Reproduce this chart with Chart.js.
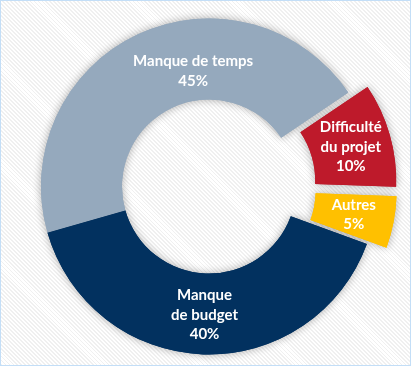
<!DOCTYPE html>
<html>
<head>
<meta charset="utf-8">
<script src="https://cdn.jsdelivr.net/npm/chart.js@4/dist/chart.umd.min.js"></script>
<style>
  html, body { margin: 0; padding: 0; background: #fff; overflow: hidden; }
  #wrap {
    position: relative; width: 411px; height: 366px; overflow: hidden;
    background: repeating-linear-gradient(45deg, #ffffff 0px, #ffffff 1.5px, #f0f0f0 1.5px, #f0f0f0 2.8px);
  }
  #wrap canvas { position: absolute; left: 0; top: 0; }
  #frame {
    position: absolute; left: 0; top: 0; width: 411px; height: 366px;
    box-sizing: border-box; border: 1px solid #c3def7; pointer-events: none;
  }
</style>
</head>
<body>
<div id="wrap">
  <canvas id="c" width="411" height="366"></canvas>
  <div id="frame"></div>
</div>
<script>
// ---- data ----
const categories = ['Manque de temps', 'Difficulté du projet', 'Autres', 'Manque de budget'];
const values = [45, 10, 5, 40];
const labelLines = [
  ['Manque de temps', '45%'],
  ['Difficulté', 'du projet', '10%'],
  ['Autres', '5%'],
  ['Manque', 'de budget', '40%']
];
const colors = ['#95a9bd', '#be1a2b', '#ffc000', '#02315f'];
const explode = [0, 20, 20, 0];
const labelShiftX = [38, 0, 0, 0];
const labelShiftY = [0, 1, 0, 1];

// translate exploded slices along their mid angle (pure shift, no radius growth)
const explodePlugin = {
  id: 'explodeSlices',
  afterUpdate(chart) {
    chart.getDatasetMeta(0).data.forEach((arc, i) => {
      if (!arc._origDraw) arc._origDraw = arc.draw;
      const d = explode[i];
      arc.draw = function (ctx, area) {
        const mid = (this.startAngle + this.endAngle) / 2;
        ctx.save();
        ctx.translate(Math.cos(mid) * d, Math.sin(mid) * d);
        this._origDraw(ctx, area);
        ctx.restore();
      };
    });
  }
};

const shadowPlugin = {
  id: 'ringShadow',
  beforeDatasetsDraw(chart) {
    const ctx = chart.ctx;
    chart.getDatasetMeta(0).data.forEach(arc => {
      ctx.save();
      ctx.shadowColor = 'rgba(0,0,0,0.33)';
      ctx.shadowBlur = 9;
      ctx.shadowOffsetX = 0;
      ctx.shadowOffsetY = 0;
      arc.draw(ctx);
      ctx.restore();
    });
  }
};

const labelPlugin = {
  id: 'sliceLabels',
  afterDatasetsDraw(chart) {
    const ctx = chart.ctx;
    const meta = chart.getDatasetMeta(0);
    meta.data.forEach((arc, i) => {
      const p = arc.getProps(['x', 'y', 'startAngle', 'endAngle', 'innerRadius', 'outerRadius'], true);
      const mid = (p.startAngle + p.endAngle) / 2;
      const r = (p.innerRadius + p.outerRadius) / 2 + explode[i];
      const cx = p.x + Math.cos(mid) * r + labelShiftX[i];
      const cy = p.y + Math.sin(mid) * r + labelShiftY[i];
      const lines = labelLines[i];
      const lh = 19.5;
      ctx.save();
      ctx.fillStyle = '#ffffff';
      ctx.font = 'bold 15px Lato';
      ctx.textAlign = 'center';
      ctx.textBaseline = 'middle';
      lines.forEach((t, k) => {
        ctx.fillText(t, cx, cy + (k - (lines.length - 1) / 2) * lh);
      });
      ctx.restore();
    });
  }
};

new Chart(document.getElementById('c'), {
  type: 'doughnut',
  data: {
    labels: categories,
    datasets: [{
      data: values,
      backgroundColor: colors,
      borderWidth: 0,
      hoverOffset: 0,
      clip: false
    }]
  },
  options: {
    responsive: false,
    animation: false,
    rotation: 254,
    radius: 168,
    cutout: '51.8%',
    layout: { padding: { left: 7, right: 0, top: 7, bottom: 0 } },
    plugins: {
      legend: { display: false },
      tooltip: { enabled: false },
      title: { display: false }
    },
    events: []
  },
  plugins: [explodePlugin, shadowPlugin, labelPlugin]
});
</script>
</body>
</html>
